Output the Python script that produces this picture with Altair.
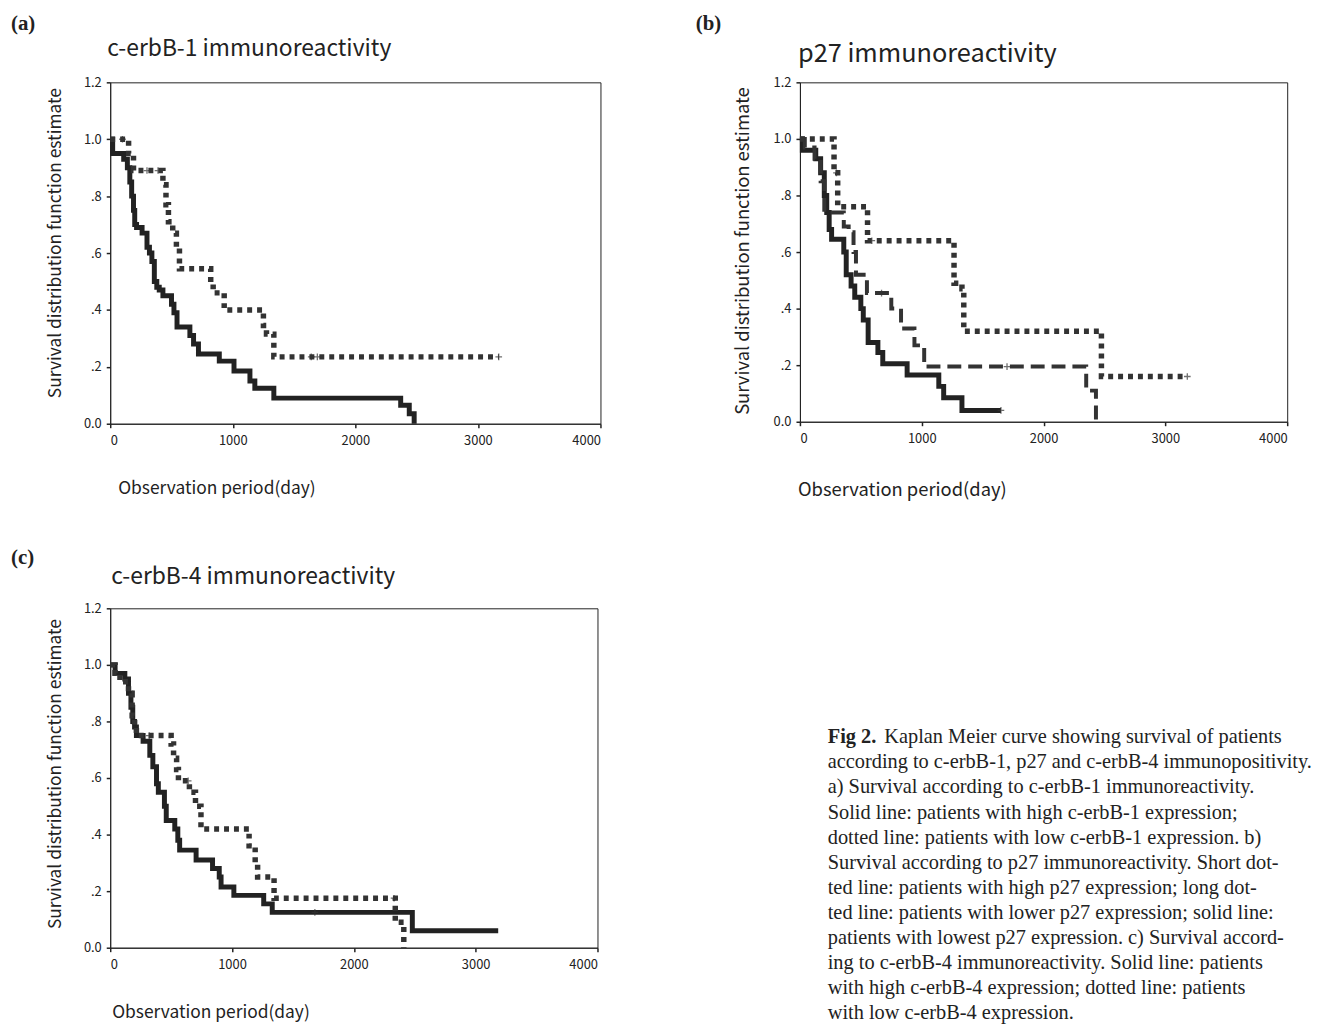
import altair as alt
import pandas as pd

# ---------------- data ----------------
# panel (a) c-erbB-1
A_HIGH_T = [0, 20, 110, 140, 160, 175, 190, 200, 215, 260, 300, 320, 340, 360, 380, 400, 430, 500, 520, 545,
            650, 680, 720, 890, 1010, 1140, 1180, 1335, 2370, 2440, 2480]
A_HIGH_S = [1.0, 0.95, 0.93, 0.90, 0.85, 0.80, 0.75, 0.70, 0.69, 0.67, 0.62, 0.60, 0.57, 0.50, 0.48, 0.47, 0.45,
            0.42, 0.39, 0.34, 0.31, 0.28, 0.245, 0.22, 0.185, 0.15, 0.125, 0.09, 0.065, 0.035, 0.0]
A_LOW_T = [0, 150, 190, 430, 455, 475, 510, 540, 565, 820, 840, 930, 1250, 1275, 1335, 3170]
A_LOW_S = [1.0, 0.95, 0.89, 0.84, 0.77, 0.71, 0.67, 0.62, 0.545, 0.49, 0.46, 0.40, 0.345, 0.315, 0.235, 0.235]
A_CENS_T = [100, 300, 390, 1640, 1690, 3170]
A_CENS_S = [1.0, 0.89, 0.89, 0.235, 0.235, 0.235]

# panel (b) p27
B_HIGH_T = [0, 280, 310, 555, 1265, 1330, 1345, 2475, 3180]
B_HIGH_S = [1.0, 0.88, 0.76, 0.64, 0.49, 0.47, 0.32, 0.16, 0.16]
B_LOWER_T = [0, 40, 120, 170, 200, 360, 400, 440, 460, 550, 750, 830, 940, 1020, 2350, 2430]
B_LOWER_S = [1.0, 0.97, 0.93, 0.85, 0.74, 0.69, 0.67, 0.60, 0.52, 0.455, 0.40, 0.33, 0.27, 0.195, 0.11, 0.0]
B_LOWEST_T = [0, 20, 130, 170, 200, 220, 240, 260, 360, 380, 420, 450, 500, 520, 560, 640, 680, 880, 1140,
              1180, 1330, 1650]
B_LOWEST_S = [1.0, 0.96, 0.93, 0.88, 0.80, 0.74, 0.68, 0.645, 0.60, 0.52, 0.48, 0.44, 0.40, 0.36, 0.28, 0.245,
              0.205, 0.165, 0.125, 0.085, 0.04, 0.04]
B_CENS_T = [300, 590, 670, 1700, 3180, 1650]
B_CENS_S = [0.88, 0.64, 0.455, 0.195, 0.16, 0.04]

# panel (c) c-erbB-4
C_HIGH_T = [0, 40, 120, 150, 170, 185, 200, 215, 270, 325, 350, 380, 395, 445, 460, 530, 555, 570, 705, 840,
            895, 910, 1015, 1260, 1330, 2480, 3185]
C_HIGH_S = [1.0, 0.97, 0.95, 0.90, 0.85, 0.80, 0.78, 0.75, 0.73, 0.68, 0.64, 0.58, 0.55, 0.50, 0.45, 0.42,
            0.38, 0.345, 0.31, 0.28, 0.25, 0.215, 0.185, 0.155, 0.125, 0.06, 0.06]
C_LOW_T = [0, 40, 80, 150, 180, 200, 215, 500, 520, 545, 560, 650, 700, 745, 1140, 1190, 1210, 1345, 2340, 2410]
C_LOW_S = [1.0, 0.97, 0.94, 0.90, 0.82, 0.78, 0.75, 0.72, 0.67, 0.63, 0.59, 0.55, 0.50, 0.42, 0.36, 0.30,
           0.25, 0.175, 0.09, 0.0]
C_CENS_T = [320, 640, 1680, 2330]
C_CENS_S = [0.75, 0.59, 0.125, 0.175]

X_TICKS = [0, 1000, 2000, 3000, 4000]
Y_TICKS = [0.0, 0.2, 0.4, 0.6, 0.8, 1.0, 1.2]

TITLES = ["c-erbB-1 immunoreactivity", "p27 immunoreactivity", "c-erbB-4 immunoreactivity"]
LABELS = ["(a)", "(b)", "(c)"]
Y_TITLE = "Survival distribution function estimate"
X_TITLE = "Observation period(day)"

CAPTION_BOLD = "Fig 2."
CAPTION_LINES = [
    "Kaplan Meier curve showing survival of patients",
    "according to c-erbB-1, p27 and c-erbB-4 immunopositivity.",
    "a) Survival according to c-erbB-1 immunoreactivity.",
    "Solid line: patients with high c-erbB-1 expression;",
    "dotted line: patients with low c-erbB-1 expression. b)",
    "Survival according to p27 immunoreactivity. Short dot-",
    "ted line: patients with high p27 expression; long dot-",
    "ted line: patients with lower p27 expression; solid line:",
    "patients with lowest p27 expression. c) Survival accord-",
    "ing to c-erbB-4 immunoreactivity. Solid line: patients",
    "with high c-erbB-4 expression; dotted line: patients",
    "with low c-erbB-4 expression.",
]

SANS = "Noto Sans CJK JP"
SERIF = "Liberation Serif"
INK = "#222222"

Y_LABEL_EXPR = ("datum.value < 0.01 ? '0.0' : (datum.value > 0.99 ? format(datum.value, '.1f') "
                ": slice(format(datum.value, '.1f'), 1))")


def enc_xy():
    x = alt.X("t:Q", scale=alt.Scale(domain=[0, 4000], nice=False, zero=False),
              axis=alt.Axis(values=X_TICKS, format="d", title=None, grid=False, labelPadding=7))
    y = alt.Y("s:Q", scale=alt.Scale(domain=[0, 1.2], nice=False, zero=False),
              axis=alt.Axis(values=Y_TICKS, labelExpr=Y_LABEL_EXPR, title=None, grid=False, labelPadding=5))
    return x, y


def curve(t, s, style):
    df = pd.DataFrame({"t": t, "s": s})
    x, y = enc_xy()
    if style == "solid":
        m = alt.Chart(df).mark_line(interpolate="step-after", color=INK, strokeWidth=5, strokeJoin="miter")
    elif style == "dotted":
        m = alt.Chart(df).mark_line(interpolate="step-after", color="#333333", strokeWidth=5.5,
                                    strokeDash=[5, 5], strokeCap="butt")
    else:  # long dashed
        m = alt.Chart(df).mark_line(interpolate="step-after", color="#333333", strokeWidth=4,
                                    strokeDash=[14, 7], strokeCap="butt")
    return m.encode(x=x, y=y)


def censor(t, s):
    df = pd.DataFrame({"t": t, "s": s})
    x, y = enc_xy()
    return alt.Chart(df).mark_point(shape="M-1,0H1M0,-1V1", filled=False, color="#333333",
                                    strokeWidth=1.3, size=45).encode(x=x, y=y)


def text(txt, px, py, size, font, bold=False, angle=0, align="left"):
    df = pd.DataFrame({"txt": [txt]})
    kw = dict(font=font, fontSize=size, color=INK, align=align, baseline="middle")
    if bold:
        kw["fontWeight"] = "bold"
    if angle:
        kw["angle"] = angle
    return alt.Chart(df).mark_text(**kw).encode(text="txt:N", x=alt.value(px), y=alt.value(py))


def panel(idx, curves, cens, w, h, lab_off, title_off, ytitle_off, xtitle_off, title_size=23, axis_title_size=17.5,
          extra=None):
    layers = list(curves)
    layers.append(cens)
    layers.append(text(LABELS[idx], lab_off[0], lab_off[1], 21, SERIF, bold=True))
    layers.append(text(TITLES[idx], title_off[0], title_off[1], title_size, SANS))
    layers.append(text(Y_TITLE, ytitle_off[0], ytitle_off[1], axis_title_size, SANS, angle=270, align="center"))
    layers.append(text(X_TITLE, xtitle_off[0], xtitle_off[1], axis_title_size, SANS))
    if extra:
        layers.extend(extra)
    return alt.layer(*layers).properties(width=w, height=h)


pa = panel(0,
           [curve(A_HIGH_T, A_HIGH_S, "solid"), curve(A_LOW_T, A_LOW_S, "dotted")],
           censor(A_CENS_T, A_CENS_S),
           494, 344, (-100, -59), (-3, -34), (-55, 162), (8, 410))

pb = panel(1,
           [curve(B_LOWEST_T, B_LOWEST_S, "solid"), curve(B_LOWER_T, B_LOWER_S, "dashed"),
            curve(B_HIGH_T, B_HIGH_S, "dotted")],
           censor(B_CENS_T, B_CENS_S),
           491, 342, (-105, -59), (-2, -28), (-57, 170), (-2, 411), title_size=25.5, axis_title_size=18.5)

# caption, placed relative to panel (c)
cap_x = 723
cap_y0 = 130
cap_dy = 25.3
caption_layers = [text(CAPTION_BOLD, cap_x, cap_y0, 20.5, SERIF, bold=True)]
caption_layers.append(text(CAPTION_LINES[0], cap_x + 57, cap_y0, 20.5, SERIF))
for i, line in enumerate(CAPTION_LINES[1:], start=1):
    caption_layers.append(text(line, cap_x, cap_y0 + i * cap_dy, 20.5, SERIF))

pc = panel(2,
           [curve(C_HIGH_T, C_HIGH_S, "solid"), curve(C_LOW_T, C_LOW_S, "dotted")],
           censor(C_CENS_T, C_CENS_S),
           491, 342, (-100, -51), (1, -31), (-55, 167), (2, 408), extra=caption_layers)

row1 = alt.hconcat(pa, pb, spacing=93)
chart = alt.vconcat(row1, pc, spacing=46).properties(
    padding={"left": 2, "top": 0, "right": 0, "bottom": 0},
    background="white",
).configure_view(
    stroke=INK, strokeWidth=1
).configure_axis(
    domainColor=INK, tickColor=INK, tickSize=4, labelFont=SANS, labelFontSize=13, labelColor=INK,
    domainWidth=1, tickWidth=1.5
)

chart.save("out.html", embed_options={"renderer": "svg", "actions": False})
